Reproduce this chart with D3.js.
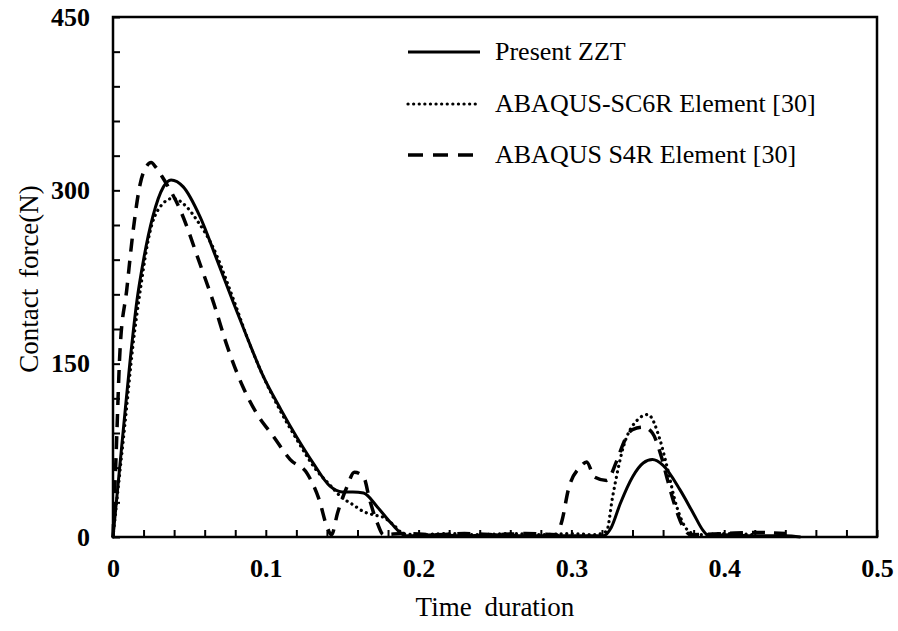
<!DOCTYPE html>
<html>
<head>
<meta charset="utf-8">
<script src="https://cdn.jsdelivr.net/npm/d3@7"></script>
<style>
body { margin: 0; background: #fff; }
svg { display: block; font-family: "Liberation Serif", "Times New Roman", serif; }
</style>
</head>
<body>
<div id="chart"></div>
<script>
// series (time in s, contact force in N)
var zztTime = [0, 0.004, 0.008, 0.011, 0.0157, 0.02, 0.026, 0.033, 0.038, 0.046, 0.057, 0.068, 0.079, 0.088, 0.098, 0.11, 0.12, 0.131, 0.142, 0.15, 0.157, 0.164, 0.173, 0.182, 0.192, 0.21, 0.23, 0.25, 0.27, 0.29, 0.31, 0.321, 0.326, 0.332, 0.34, 0.347, 0.353, 0.36, 0.371, 0.38, 0.386, 0.39, 0.40, 0.42, 0.44, 0.45];
var zztForce = [0, 55, 110, 150, 205, 240, 277, 303, 309, 303, 277, 240, 202, 172, 140, 110, 87, 64, 44, 39, 39, 38, 26, 12, 1, 2, 1, 2, 1, 1, 1, 1, 8, 29, 52, 64, 67, 62, 41, 20, 6, 1, 2, 1, 1, 0];

var sc6rTime = [0, 0.004, 0.008, 0.013, 0.018, 0.024, 0.031, 0.039, 0.048, 0.055, 0.065, 0.079, 0.088, 0.098, 0.11, 0.12, 0.133, 0.142, 0.149, 0.157, 0.164, 0.171, 0.177, 0.184, 0.19, 0.2, 0.22, 0.24, 0.26, 0.28, 0.3, 0.315, 0.323, 0.327, 0.334, 0.343, 0.35, 0.358, 0.362, 0.369, 0.376, 0.382, 0.4, 0.42];
var sc6rForce = [0, 50, 100, 165, 215, 263, 286, 293, 286, 274, 252, 205, 172, 140, 108, 85, 58, 45, 35, 28, 22, 19, 17, 10, 3, 2, 3, 2, 3, 2, 3, 2, 5, 35, 78, 101, 106, 84, 64, 26, 6, 2, 3, 2];

var s4rTime = [0, 0.002, 0.0046, 0.009, 0.013, 0.0177, 0.022, 0.025, 0.028, 0.033, 0.044, 0.057, 0.066, 0.074, 0.085, 0.094, 0.105, 0.116, 0.127, 0.135, 0.14, 0.143, 0.147, 0.153, 0.158, 0.164, 0.168, 0.173, 0.177, 0.19, 0.21, 0.23, 0.25, 0.27, 0.29, 0.294, 0.298, 0.306, 0.31, 0.315, 0.323, 0.33, 0.334, 0.34, 0.347, 0.353, 0.359, 0.363, 0.368, 0.373, 0.378, 0.4, 0.42, 0.44];
var s4rForce = [0, 70, 162, 214, 263, 305, 321, 324, 320, 310, 283, 236, 202, 168, 130, 107, 87, 67, 55, 32, 9, 2, 21, 43, 56, 52, 32, 12, 2, 3, 2, 3, 2, 3, 2, 15, 41, 61, 65, 52, 49, 67, 81, 93, 95, 90, 69, 49, 26, 9, 2, 3, 4, 3];

var xTicks = [0, 0.1, 0.2, 0.3, 0.4, 0.5];
var yTicks = [0, 150, 300, 450];
var legendLabels = ["Present ZZT", "ABAQUS-SC6R Element [30]", "ABAQUS S4R Element [30]"];

var width = 898, height = 631;
var margin = {top: 17, right: 21, bottom: 94, left: 113};
var plotW = width - margin.left - margin.right;
var plotH = height - margin.top - margin.bottom;

var svg = d3.select("#chart").append("svg")
	.attr("width", width)
	.attr("height", height);

var g = svg.append("g")
	.attr("transform", "translate(" + margin.left + "," + margin.top + ")");

var x = d3.scaleLinear().domain([0, 0.5]).range([0, plotW]);
var y = d3.scaleLinear().domain([0, 450]).range([plotH, 0]);

// minor ticks (inside), no labels
g.append("g")
	.attr("class", "axis")
	.attr("transform", "translate(0," + plotH + ")")
	.call(d3.axisBottom(x).tickValues(d3.range(0, 0.5001, 0.02)).tickSize(-7).tickFormat(""));
g.append("g")
	.attr("class", "axis")
	.call(d3.axisLeft(y).tickValues(d3.range(0, 451, 30)).tickSize(-7).tickFormat(""));

// labelled axes
g.append("g")
	.attr("class", "axis lab")
	.attr("transform", "translate(0," + plotH + ")")
	.call(d3.axisBottom(x).tickValues(xTicks).tickSize(0).tickPadding(22).tickFormat(function(d) { return d === 0 ? "0" : d3.format(".1f")(d); }));
g.append("g")
	.attr("class", "axis lab")
	.call(d3.axisLeft(y).tickValues(yTicks).tickSize(0).tickPadding(23));

g.selectAll(".axis path").remove();
g.selectAll(".axis line").attr("stroke", "#000").attr("stroke-width", 2);
g.selectAll(".lab").attr("font-family", null).attr("font-size", null);
g.selectAll(".lab text")
	.attr("font-size", 26)
	.attr("font-weight", "bold")
	.attr("fill", "#000");

// frame
g.append("rect")
	.attr("x", 0).attr("y", 0)
	.attr("width", plotW).attr("height", plotH)
	.attr("fill", "none")
	.attr("stroke", "#000")
	.attr("stroke-width", 2.5);

var series = [
	{t: zztTime, f: zztForce, dash: null, w: 3},
	{t: sc6rTime, f: sc6rForce, dash: "0.1,5.5", w: 3.2},
	{t: s4rTime, f: s4rForce, dash: "13,9", w: 3.5}
];

var line = d3.line()
	.x(function(d) { return x(d[0]); })
	.y(function(d) { return y(d[1]); })
	.curve(d3.curveMonotoneX);

series.forEach(function(s) {
	var pts = s.t.map(function(t, i) { return [t, s.f[i]]; });
	g.append("path")
		.datum(pts)
		.attr("d", line)
		.attr("fill", "none")
		.attr("stroke", "#000")
		.attr("stroke-width", s.w)
		.attr("stroke-linecap", s.dash === "0.1,5.5" ? "round" : "butt")
		.attr("stroke-dasharray", s.dash);
});

// legend
var legendY = [52, 104, 155];
series.forEach(function(s, i) {
	svg.append("line")
		.attr("x1", 408).attr("x2", 480)
		.attr("y1", legendY[i]).attr("y2", legendY[i])
		.attr("stroke", "#000")
		.attr("stroke-width", s.w)
		.attr("stroke-linecap", s.dash === "0.1,5.5" ? "round" : "butt")
		.attr("stroke-dasharray", i === 2 ? "15,10" : s.dash);
	svg.append("text")
		.attr("x", 495)
		.attr("y", legendY[i] + 8)
		.attr("font-size", 26)
		.attr("fill", "#000")
		.text(legendLabels[i]);
});

// axis titles
svg.append("text")
	.attr("x", margin.left + plotW / 2)
	.attr("y", 616)
	.attr("text-anchor", "middle")
	.attr("font-size", 27)
	.attr("word-spacing", 6)
	.text("Time duration");

svg.append("text")
	.attr("transform", "translate(38," + (margin.top + plotH / 2 + 2) + ") rotate(-90)")
	.attr("text-anchor", "middle")
	.attr("font-size", 27)
	.attr("word-spacing", 4)
	.text("Contact force(N)");
</script>
</body>
</html>
